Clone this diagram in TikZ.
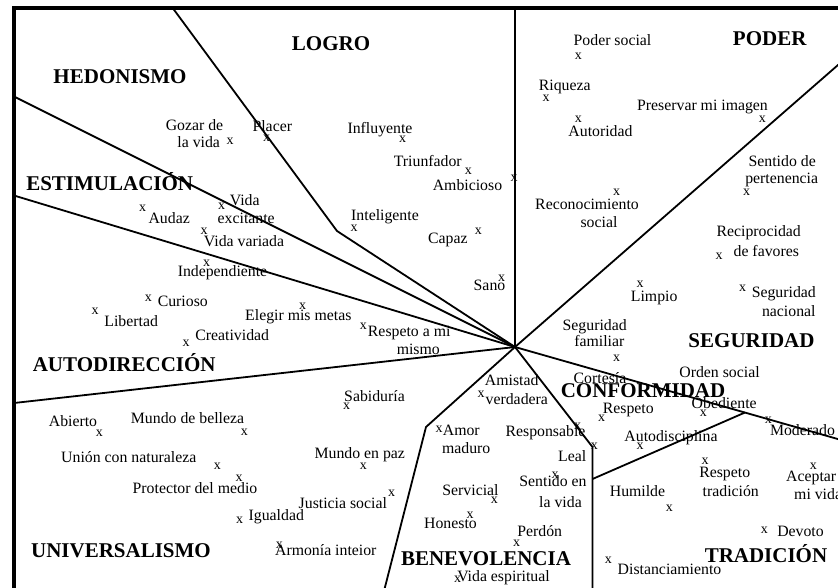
\documentclass[tikz,border=0pt]{standalone}
\usepackage{fontspec}
\setmainfont{Liberation Serif}
\begin{document}
\begin{tikzpicture}[x=1pt,y=-1pt,
  lab/.style={inner sep=0pt,anchor=base,font=\fontsize{15.8}{18}\selectfont},
  labw/.style={lab,anchor=base west},
  region/.style={inner sep=0pt,anchor=base,font=\fontsize{21}{24}\selectfont\bfseries},
  mk/.style={inner sep=0pt,anchor=center,font=\fontsize{14}{16}\selectfont},
  border/.style={line width=1.8pt,line join=miter},
  frame/.style={line width=4pt,line join=miter}]
\useasboundingbox (0,0) rectangle (838,587);
\clip (0,0) rectangle (838,587);

% ---- region titles ----
\node[region] (hed)   at (120,83)    {HEDONISMO};
\node[region] (logro) at (331,50.5)  {LOGRO};
\node[region] (poder) at (769.7,45)  {PODER};
\node[region] (estim) at (109.7,190) {ESTIMULACIÓN};
\node[region] (autod) at (124.2,371.5) {AUTODIRECCIÓN};
\node[region] (segur) at (751.5,347) {SEGURIDAD};
\node[region] (conf)  at (643,397)   {CONFORMIDAD};
\node[region] (univ)  at (121,557)   {UNIVERSALISMO};
\node[region] (benev) at (486,565)   {BENEVOLENCIA};
\node[region] (trad)  at (766,562.7) {TRADICIÓN};

% ---- value labels ----
\node[lab] (gozarA) at (194.5,130) {Gozar de};
\node[lab] (gozarB) at (198.7,147) {la vida};
\node[lab] (placer) at (272.3,131.7) {Placer};
\node[lab] (influ) at (380,133.3) {Influyente};
\node[lab] (triun) at (427.8,166.7) {Triunfador};
\node[lab] (ambic) at (467.5,190) {Ambicioso};
\node[lab] (podsoc) at (612.5,45) {Poder social};
\node[lab] (riq) at (564.7,90.7) {Riqueza};
\node[lab] (pres) at (702.5,110) {Preservar mi imagen};
\node[lab] (autor) at (600.5,136.7) {Autoridad};
\node[lab] (pertA) at (782.2,166.7) {Sentido de};
\node[lab] (pertB) at (781.7,183.3) {pertenencia};
\node[lab] (vexA) at (244.7,205) {Vida};
\node[lab] (vexB) at (246.2,223.3) {excitante};
\node[lab] (audaz) at (169.2,223.3) {Audaz};
\node[lab] (vvar) at (244,246.7) {Vida variada};
\node[lab] (indep) at (222.5,276.7) {Independiente};
\node[lab] (curi) at (182.8,306.7) {Curioso};
\node[lab] (liber) at (131.2,326.7) {Libertad};
\node[lab] (creat) at (232.2,340) {Creatividad};
\node[lab] (eleg) at (298.3,320) {Elegir mis metas};
\node[lab] (intel) at (385,220.7) {Inteligente};
\node[lab] (capaz) at (447.8,243.3) {Capaz};
\node[lab] (sano) at (489.5,290) {Sano};
\node[lab] (rmiA) at (409.2,336.7) {Respeto a mi};
\node[lab] (rmiB) at (418.3,354) {mismo};
\node[lab] (recoA) at (587,209.3) {Reconocimiento};
\node[lab] (recoB) at (599,227.3) {social};
\node[lab] (reciA) at (758.7,236.7) {Reciprocidad};
\node[lab] (reciB) at (766.3,256) {de favores};
\node[lab] (limp) at (654.2,301.7) {Limpio};
\node[lab] (snacA) at (783.8,297.3) {Seguridad};
\node[lab] (snacB) at (788.8,316) {nacional};
\node[lab] (sfamA) at (594.7,330) {Seguridad};
\node[lab] (sfamB) at (599.3,346.7) {familiar};
\node[lab] (orden) at (719.5,377.5) {Orden social};
\node[lab] (cortes) at (600,383.3) {Cortesía};
\node[lab] (amisA) at (511.7,385.7) {Amistad};
\node[lab] (amisB) at (516.8,404) {verdadera};
\node[lab] (amorA) at (461.3,435) {Amor};
\node[lab] (amorB) at (466.2,453) {maduro};
\node[lab] (respon) at (545.5,436.7) {Responsable};
\node[lab] (leal) at (572.2,461) {Leal};
\node[lab] (resp) at (628.3,413.3) {Respeto};
\node[lab] (obed) at (724.2,408.3) {Obediente};
\node[lab] (moder) at (802.5,435) {Moderado};
\node[lab] (autodis) at (671,441) {Autodisciplina};
\node[lab] (sentA) at (553,486.5) {Sentido en};
\node[lab] (sentB) at (560.5,507.3) {la vida};
\node[lab] (humil) at (637.5,496.7) {Humilde};
\node[lab] (rtrA) at (724.7,477.3) {Respeto};
\node[lab] (rtrB) at (730.8,496) {tradición};
\node[labw] (aceA) at (786,481.7) {Aceptar};
\node[labw] (aceB) at (794,499.3) {mi vida};
\node[lab] (devoto) at (800.5,536.7) {Devoto};
\node[lab] (distan) at (669.5,574.3) {Distanciamiento};
\node[lab] (sabid) at (374.5,401.7) {Sabiduría};
\node[lab] (mpaz) at (359.8,458.3) {Mundo en paz};
\node[lab] (justi) at (342.8,508.3) {Justicia social};
\node[lab] (servi) at (470.5,495) {Servicial};
\node[lab] (hones) at (450.5,528.3) {Honesto};
\node[lab] (perdon) at (539.7,536) {Perdón};
\node[lab] (vesp) at (503.5,581.7) {Vida espiritual};
\node[lab] (igual) at (276.3,520) {Igualdad};
\node[lab] (armon) at (325.8,555) {Armonía inteior};
\node[lab] (abier) at (73,426.7) {Abierto};
\node[lab] (bell) at (187.5,423.3) {Mundo de belleza};
\node[lab] (union) at (128.8,462.7) {Unión con naturaleza};
\node[lab] (prot) at (195,493.3) {Protector del medio};

% ---- point markers ----
\foreach \n/\p in {
  gozar/{230,141.7}, placer/{266.7,138.3}, influ/{402.7,139.3},
  triun/{468.3,171.7}, ambic/{514,178.3}, podsoc/{578.3,56},
  riq/{546,98.7}, pres/{762.3,119.3}, autor/{578.3,119.3},
  pert/{746.7,192.7}, reco/{616.7,192.7}, vex/{221.7,206.7},
  audaz/{142.7,208.3}, vvar/{204,231.7}, indep/{206.7,263.3},
  curi/{148.3,298.3}, liber/{95,311}, creat/{186,343.3},
  eleg/{302.7,306}, intel/{354,228.3}, capaz/{478.3,231.7},
  sano/{501.7,278.3}, rmi/{363.3,326.7}, reci/{719,256},
  limp/{640,284}, snac/{742.7,288.3}, sfam/{616.7,358.3},
  amis/{481,394}, amor/{439,429.3}, respon/{577.7,426.7},
  leal/{594.3,446.7}, resp/{601.7,418.3}, obed/{703.3,413.3},
  moder/{768.3,420}, autodis/{640,446.7}, sent/{555,475},
  humil/{669.3,508.3}, rtr/{705,461}, ace/{813.3,466},
  devoto/{764.3,530}, distan/{608.3,560}, sabid/{346.7,406.7},
  mpaz/{363.3,466.7}, justi/{391.7,493.3}, servi/{494.3,500.7},
  hones/{470,515}, perdon/{516.7,543.3}, vesp/{457.5,579.3},
  igual/{239.5,520}, armon/{279.3,545}, abier/{99.3,433.3},
  bell/{244.3,432.7}, union/{217.3,466}, prot/{239,478.3}}
  \node[mk] (m-\n) at (\p) {x};

% ---- region boundaries ----
\coordinate (O)  at (515,347);
\coordinate (T1) at (515,8);
\coordinate (T2) at (172.7,8);
\coordinate (K1) at (337,231);
\coordinate (L1) at (14,96.5);
\coordinate (L2) at (14,195.5);
\coordinate (L3) at (14,403);
\coordinate (K2) at (426,427);
\coordinate (D1) at (381.7,600);
\coordinate (K3) at (592.5,447);
\coordinate (K4) at (592.5,479);
\coordinate (D2) at (592.5,600);
\coordinate (R1) at (850,54.5);
\coordinate (R2) at (850,442.5);
\coordinate (K5) at (745,412.5);

\draw[border] (O) -- (T1);
\draw[border] (T2) -- (K1) -- (O);
\draw[border] (L1) -- (O);
\draw[border] (L2) -- (O);
\draw[border] (L3) -- (O);
\draw[border] (O) -- (K2) -- (D1);
\draw[border] (O) -- (K3) -- (D2);
\draw[border] (O) -- (R1);
\draw[border] (O) -- (R2);
\draw[border] (K5) -- (K4);

% ---- outer frame ----
\draw[frame] (14,600) -- (14,8) -- (850,8);
\end{tikzpicture}
\end{document}
